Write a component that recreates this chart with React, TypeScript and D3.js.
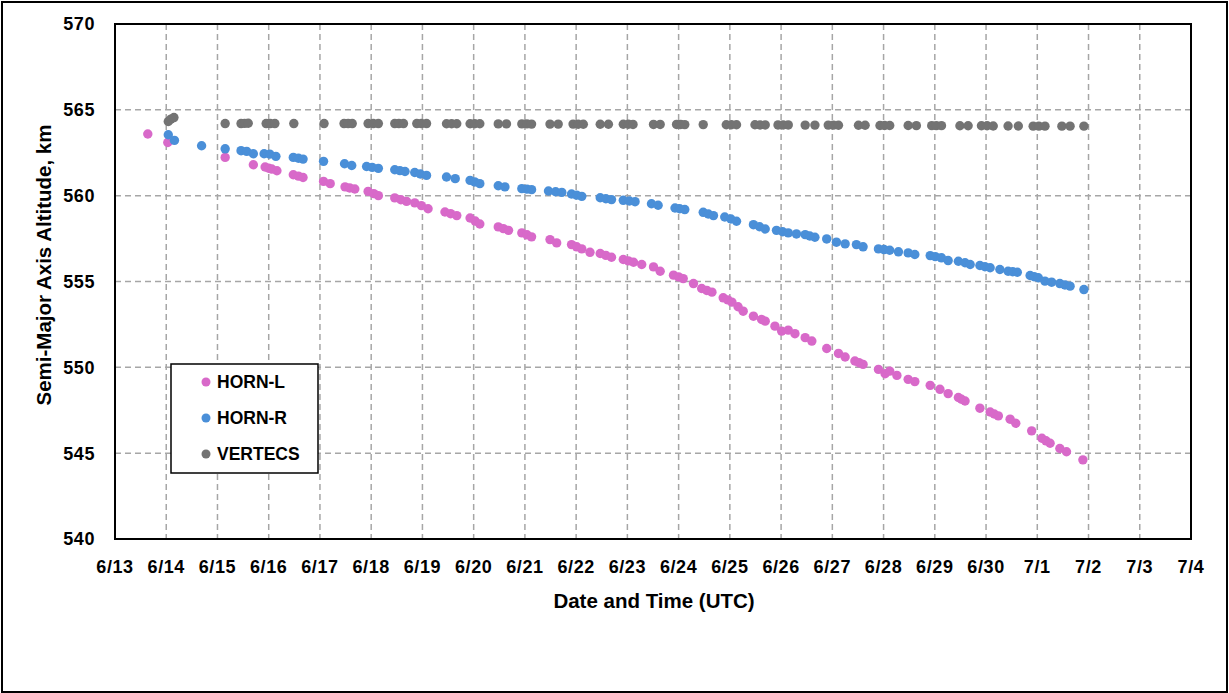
import React from 'react';
import * as d3 from 'd3';

// day offsets from 6/13 00:00 UTC, semi-major axis altitude in km
const hornL: [number, number][] = [
  [0.64, 563.59], [1.03, 563.1], [2.15, 562.23], [2.7, 561.8], [2.93, 561.67], [3.0, 561.6], [3.06, 561.55], [3.16, 561.45],
  [3.48, 561.22], [3.58, 561.14], [3.67, 561.06], [4.07, 560.83], [4.2, 560.7], [4.49, 560.51], [4.58, 560.45], [4.68, 560.39], [4.94, 560.25],
  [5.05, 560.12], [5.14, 560.0], [5.46, 559.87], [5.58, 559.76], [5.69, 559.67], [5.85, 559.58], [5.98, 559.42], [6.11, 559.24], [6.44, 559.05], [6.55, 558.95], [6.67, 558.84],
  [6.93, 558.7], [7.03, 558.52], [7.12, 558.35], [7.48, 558.18], [7.58, 558.08], [7.68, 557.98], [7.94, 557.83], [8.04, 557.72], [8.13, 557.6], [8.49, 557.44],
  [8.62, 557.25], [8.91, 557.15], [9.01, 557.02], [9.11, 556.9], [9.27, 556.7], [9.47, 556.63], [9.58, 556.52], [9.69, 556.41], [9.92, 556.28],
  [10.02, 556.2], [10.12, 556.12], [10.28, 555.99], [10.51, 555.85], [10.64, 555.6], [10.9, 555.37], [11.0, 555.27], [11.09, 555.17],
  [11.29, 554.88], [11.45, 554.59], [11.55, 554.48], [11.65, 554.38], [11.87, 554.05], [11.96, 553.93], [12.04, 553.8], [12.16, 553.53],
  [12.26, 553.27], [12.46, 552.98], [12.62, 552.79], [12.69, 552.69], [12.88, 552.4], [13.01, 552.11],
  [13.14, 552.17], [13.27, 551.96], [13.47, 551.73], [13.6, 551.53], [13.89, 551.1], [14.12, 550.81],
  [14.25, 550.6], [14.44, 550.37], [14.52, 550.27], [14.6, 550.17], [14.9, 549.88], [15.03, 549.63], [15.12, 549.78],
  [15.26, 549.53], [15.48, 549.3], [15.61, 549.17], [15.91, 548.95], [16.1, 548.72], [16.26, 548.47],
  [16.46, 548.24], [16.52, 548.14], [16.59, 548.04], [16.88, 547.62], [17.08, 547.4], [17.16, 547.28], [17.24, 547.17], [17.47, 546.98],
  [17.58, 546.74], [17.89, 546.3], [18.09, 545.87], [18.17, 545.72], [18.25, 545.58], [18.44, 545.27], [18.57, 545.08],
  [18.89, 544.61],
];

const hornR: [number, number][] = [
  [1.04, 563.55], [1.16, 563.22], [1.69, 562.91], [2.15, 562.73], [2.46, 562.62], [2.57, 562.58], [2.7, 562.44],
  [2.91, 562.44], [3.02, 562.42], [3.14, 562.29], [3.48, 562.23], [3.58, 562.18], [3.67, 562.13], [4.07, 562.0], [4.48, 561.86],
  [4.62, 561.76], [4.91, 561.7], [5.02, 561.65], [5.14, 561.59], [5.46, 561.51], [5.56, 561.46], [5.66, 561.41], [5.85, 561.35], [5.96, 561.26], [6.08, 561.18],
  [6.47, 561.09], [6.64, 560.99], [6.93, 560.89], [7.02, 560.8], [7.12, 560.7], [7.48, 560.58], [7.61, 560.51], [7.94, 560.41], [8.04, 560.38],
  [8.13, 560.35], [8.46, 560.27], [8.6, 560.23], [8.72, 560.19], [8.91, 560.1], [9.01, 560.03], [9.11, 559.96], [9.47, 559.88], [9.58, 559.82], [9.69, 559.77],
  [9.92, 559.73], [10.04, 559.69], [10.15, 559.65], [10.47, 559.53], [10.6, 559.44], [10.93, 559.28], [11.02, 559.24], [11.12, 559.19],
  [11.48, 559.03], [11.58, 558.93], [11.68, 558.84], [11.9, 558.76], [12.02, 558.64], [12.13, 558.51], [12.46, 558.31], [12.58, 558.19], [12.69, 558.06],
  [12.91, 557.98], [13.03, 557.9], [13.14, 557.83], [13.3, 557.77], [13.47, 557.73], [13.56, 557.65], [13.66, 557.58], [13.89, 557.48],
  [14.08, 557.29], [14.25, 557.19], [14.47, 557.15], [14.6, 557.02], [14.9, 556.9], [15.01, 556.86], [15.12, 556.82],
  [15.29, 556.73], [15.48, 556.67], [15.61, 556.57], [15.91, 556.51], [16.01, 556.45], [16.13, 556.38], [16.26, 556.22],
  [16.46, 556.18], [16.59, 556.09], [16.69, 555.99], [16.88, 555.93], [16.98, 555.86], [17.08, 555.8], [17.27, 555.7],
  [17.43, 555.6], [17.52, 555.57], [17.61, 555.54], [17.86, 555.35], [17.94, 555.28], [18.02, 555.22], [18.15, 555.02], [18.28, 554.96],
  [18.44, 554.88], [18.54, 554.8], [18.64, 554.73], [18.91, 554.53],
];

const vertecs: [number, number][] = [
  [1.04, 564.32], [1.09, 564.46], [1.15, 564.55], [2.15, 564.2], [2.46, 564.2], [2.53, 564.21], [2.6, 564.22], [2.95, 564.2],
  [3.03, 564.2], [3.12, 564.2], [3.49, 564.2], [4.08, 564.2], [4.47, 564.2], [4.55, 564.2], [4.63, 564.2], [4.94, 564.2], [5.04, 564.2], [5.14, 564.2],
  [5.46, 564.2], [5.54, 564.2], [5.63, 564.2], [5.89, 564.2], [5.98, 564.2], [6.08, 564.2], [6.47, 564.19], [6.57, 564.19], [6.67, 564.19], [6.93, 564.19],
  [7.02, 564.19], [7.12, 564.19], [7.48, 564.18], [7.64, 564.18], [7.94, 564.18], [8.04, 564.18], [8.13, 564.17], [8.49, 564.17], [8.65, 564.17],
  [8.94, 564.17], [9.04, 564.16], [9.14, 564.16], [9.47, 564.16], [9.63, 564.16], [9.92, 564.16], [10.02, 564.16], [10.11, 564.15],
  [10.51, 564.15], [10.64, 564.15], [10.96, 564.15], [11.04, 564.15], [11.12, 564.14], [11.48, 564.14], [11.93, 564.13], [12.03, 564.13],
  [12.13, 564.13], [12.49, 564.13], [12.59, 564.12], [12.69, 564.12], [12.94, 564.12], [13.04, 564.12], [13.14, 564.12], [13.47, 564.11],
  [13.66, 564.11], [13.92, 564.11], [14.02, 564.11], [14.12, 564.1], [14.51, 564.1], [14.64, 564.1], [14.93, 564.09], [15.02, 564.09],
  [15.12, 564.09], [15.48, 564.09], [15.64, 564.08], [15.94, 564.08], [16.03, 564.08], [16.13, 564.08], [16.49, 564.07],
  [16.65, 564.07], [16.91, 564.07], [17.02, 564.07], [17.14, 564.06], [17.43, 564.06], [17.63, 564.06], [17.92, 564.05], [18.03, 564.05],
  [18.15, 564.05], [18.48, 564.05], [18.64, 564.05], [18.91, 564.05],
];

const xTickLabels = [
  '6/13', '6/14', '6/15', '6/16', '6/17', '6/18', '6/19', '6/20', '6/21', '6/22', '6/23',
  '6/24', '6/25', '6/26', '6/27', '6/28', '6/29', '6/30', '7/1', '7/2', '7/3', '7/4',
];
const yTicks = [540, 545, 550, 555, 560, 565, 570];

const series = [
  { name: 'HORN-L', color: '#d869c9', data: hornL },
  { name: 'HORN-R', color: '#4a8fd8', data: hornR },
  { name: 'VERTECS', color: '#737373', data: vertecs },
];

const W = 1229;
const H = 693;
const plot = { left: 115, right: 1191, top: 24, bottom: 539 };
const font = '"Liberation Sans", Arial, sans-serif';

const App = () => {
  const x = d3.scaleLinear().domain([0, xTickLabels.length - 1]).range([plot.left, plot.right]);
  const y = d3.scaleLinear().domain([540, 570]).range([plot.bottom, plot.top]);
  const days = d3.range(xTickLabels.length);

  return (
    <svg width={W} height={H} style={{ position: 'absolute', left: 0, top: 0, background: '#fff' }}>
      <rect x={2} y={2} width={W - 4} height={H - 3} fill="#fff" stroke="#000" strokeWidth={2} />

      {/* grid */}
      <g stroke="#a6a6a6" strokeWidth={1.5} strokeDasharray="6,4">
        {days.slice(1, -1).map((d) => (
          <line key={'v' + d} x1={x(d)} x2={x(d)} y1={plot.top} y2={plot.bottom} />
        ))}
        {yTicks.slice(1, -1).map((t) => (
          <line key={'h' + t} x1={plot.left} x2={plot.right} y1={y(t)} y2={y(t)} />
        ))}
      </g>
      <rect x={plot.left} y={plot.top} width={plot.right - plot.left} height={plot.bottom - plot.top}
        fill="none" stroke="#000" strokeWidth={2} />

      {/* tick labels */}
      <g fontFamily={font} fontWeight="bold" fontSize={18} fill="#000" letterSpacing={0.6}>
        {yTicks.map((t) => (
          <text key={t} x={95} y={y(t)} dy="0.36em" textAnchor="end">{t}</text>
        ))}
        {xTickLabels.map((l, i) => (
          <text key={l} x={x(i)} y={573} textAnchor="middle">{l}</text>
        ))}
      </g>

      {/* axis titles */}
      <text x={654} y={608} textAnchor="middle" fontFamily={font} fontWeight="bold" fontSize={20.5}>
        Date and Time (UTC)
      </text>
      <text transform="translate(51,265) rotate(-90)" textAnchor="middle" fontFamily={font}
        fontWeight="bold" fontSize={20.5}>
        Semi-Major Axis Altitude, km
      </text>

      {/* points */}
      {series.map((s) => (
        <g key={s.name} fill={s.color}>
          {s.data.map((p, i) => (
            <circle key={i} cx={x(p[0])} cy={y(p[1])} r={4.7} />
          ))}
        </g>
      ))}

      {/* legend */}
      <g>
        <rect x={171} y={364} width={147} height={109} fill="#fff" stroke="#000" strokeWidth={1.5} />
        {series.map((s, i) => (
          <g key={s.name} transform={`translate(206,${382 + i * 36})`}>
            <circle r={4.5} fill={s.color} />
            <text x={11} dy="0.36em" fontFamily={font} fontWeight="bold" fontSize={17.5}>{s.name}</text>
          </g>
        ))}
      </g>
    </svg>
  );
};

export default App;
